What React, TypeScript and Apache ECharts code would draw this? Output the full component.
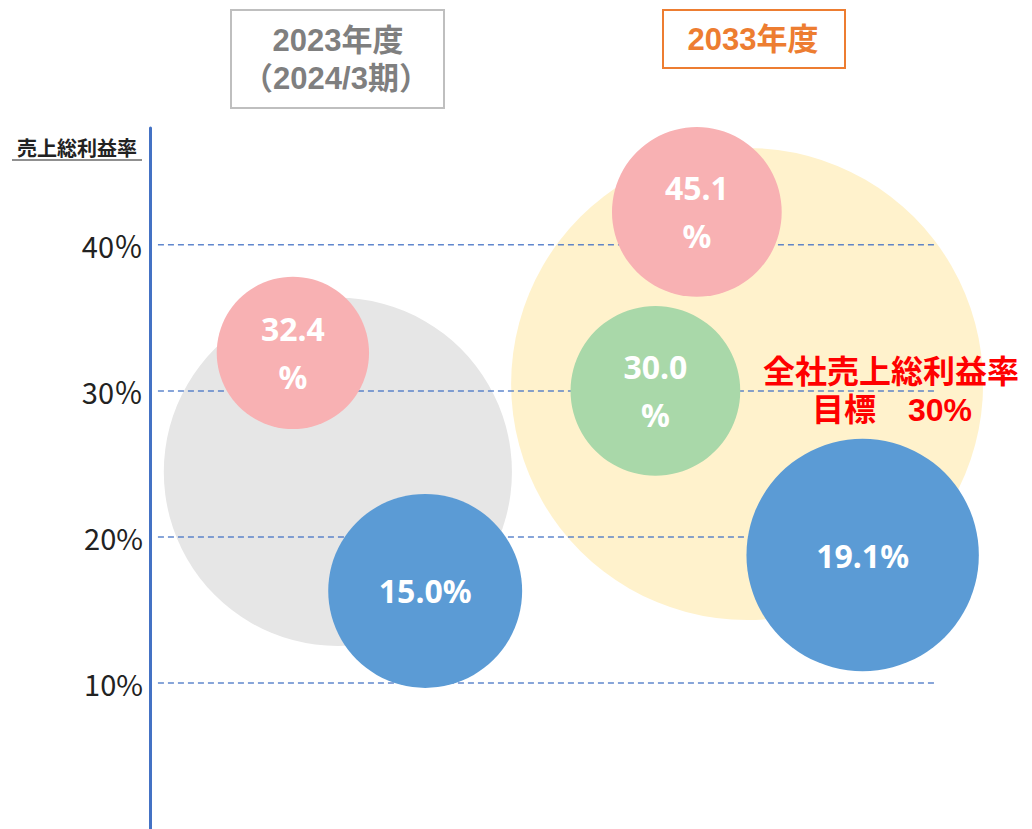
import React, { useEffect, useRef } from "react";
import * as echarts from "echarts";

// y-axis ticks (gross margin %)
const yTicks = [10, 20, 30, 40];
const yTickLabels = ["10%", "20%", "30％", "40％"];

// period (background) bubbles: x position, y position (%), relative size
const periodNames = ["2023年度", "2033年度"];
const periodX = [21.3, 67.7];
const periodY = [24.45, 30.47];
const periodSize = [303, 557];

// segment bubbles
const segNames = ["2023年度 A", "2023年度 B", "2033年度 A", "2033年度 C", "2033年度 B"];
const segX = [16.2, 31.2, 62.0, 57.3, 80.8];
const segY = [32.6, 16.3, 42.25, 30.0, 18.76];
const segSize = [58, 94, 72, 72, 135];
const segLabels = ["32.4\n%", "15.0%", "45.1\n%", "30.0\n%", "19.1%"];

// header / annotation texts
const header2023 = ["2023年度", "（2024/3期）"];
const header2033 = "2033年度";
const axisTitle = "売上総利益率";
const targetLines = ["全社売上総利益率", "目標　30%"];

// dashed guide lines span (x units)
const guideStart = 0.9;
const guideEnd = 89.2;

const periodColors = ["#E6E6E6", "#FFF2CC"];
const segColors = ["#F8B1B3", "#5B9BD5", "#F8B1B3", "#A9D8A9", "#5B9BD5"];

const FONT = '"Liberation Sans", "Noto Sans CJK JP", sans-serif';

export default function App() {
  const ref = useRef<HTMLDivElement>(null);
  useEffect(() => {
    if (!ref.current) return;
    const chart = echarts.init(ref.current, null, { renderer: "svg" });
    const sizeFn = (v: number[]) => 20 * Math.sqrt(v[2]);
    const guideSeries = yTicks.map((t) => ({
      type: "line",
      z: 2,
      silent: true,
      symbol: "none",
      data: [
        [guideStart, t],
        [guideEnd, t],
      ],
      lineStyle: { color: "#4472C4", width: 1.5, type: [6, 4], opacity: 0.85 },
    }));
    const txt = (text: string, x: number, y: number, fill: string, fontSize: number) => ({
      type: "text",
      z: 101,
      x,
      y,
      style: {
        text,
        fill,
        fontSize,
        fontWeight: "bold",
        fontFamily: FONT,
        align: "center",
        verticalAlign: "middle",
      },
    });
    chart.setOption({
      animation: false,
      grid: { left: 150, right: 0, top: 128, bottom: 0 },
      xAxis: { type: "value", min: 0, max: 100, show: false },
      yAxis: {
        type: "value",
        min: 0,
        max: 48,
        interval: 10,
        splitLine: { show: false },
        axisTick: { show: false },
        axisLine: { show: true, lineStyle: { color: "#4472C4", width: 3 } },
        axisLabel: {
          margin: 7,
          fontSize: 29,
          color: "#222222",
          fontFamily: "Noto Sans CJK JP",
          formatter: (v: number) => {
            const i = yTicks.indexOf(v);
            return i >= 0 ? yTickLabels[i] : "";
          },
        },
      },
      series: [
        {
          type: "scatter",
          z: 1,
          silent: true,
          symbolSize: sizeFn,
          data: periodX.map((x, i) => ({
            name: periodNames[i],
            value: [x, periodY[i], periodSize[i]],
            itemStyle: { color: periodColors[i], opacity: 1 },
          })),
        },
        ...guideSeries,
        {
          type: "scatter",
          z: 3,
          silent: true,
          symbolSize: sizeFn,
          data: segX.map((x, i) => ({
            name: segNames[i],
            value: [x, segY[i], segSize[i]],
            itemStyle: { color: segColors[i], opacity: 1 },
          })),
          label: {
            show: true,
            position: "inside",
            color: "#FFFFFF",
            fontSize: 32,
            fontWeight: "bold",
            lineHeight: 48,
            fontFamily: "Noto Sans",
            formatter: (p: any) => segLabels[p.dataIndex],
          },
        },
      ],
      graphic: [
        {
          type: "rect",
          z: 100,
          shape: { x: 231, y: 10, width: 213, height: 98 },
          style: { fill: "#FFFFFF", stroke: "#BFBFBF", lineWidth: 2 },
        },
        txt(header2023[0], 338, 40, "#7F7F7F", 31),
        txt(header2023[1], 336, 78, "#7F7F7F", 31),
        {
          type: "rect",
          z: 100,
          shape: { x: 663, y: 10, width: 182, height: 58 },
          style: { fill: "#FFFFFF", stroke: "#ED7D31", lineWidth: 2 },
        },
        txt(header2033, 753, 39, "#ED7D31", 31),
        txt(axisTitle, 77, 149, "#222222", 20),
        {
          type: "line",
          z: 101,
          shape: { x1: 12, y1: 160, x2: 142, y2: 160 },
          style: { stroke: "#222222", lineWidth: 1.2 },
        },
        txt(targetLines[0], 891, 372, "#FF0000", 32),
        txt(targetLines[1], 892, 410, "#FF0000", 32),
      ],
    });
    return () => chart.dispose();
  }, []);
  return (
    <div
      ref={ref}
      style={{ position: "fixed", left: 0, top: 0, width: 1032, height: 829, background: "#FFFFFF" }}
    />
  );
}
